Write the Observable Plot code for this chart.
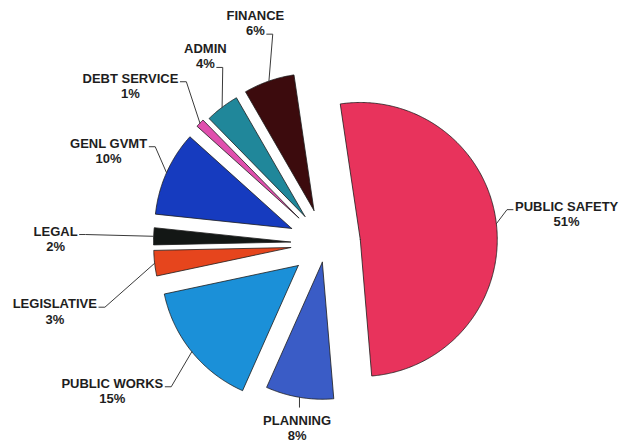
<!DOCTYPE html>
<html>
<head>
<meta charset="utf-8">
<script src="https://cdn.jsdelivr.net/npm/d3@7"></script>
<script src="https://cdn.jsdelivr.net/npm/@observablehq/plot@0.6"></script>
<style>
  html, body { margin: 0; padding: 0; background: #ffffff; }
  #chart svg { display: block; }
</style>
</head>
<body>
<div id="chart"></div>
<script>
// ---- data ----
const names  = ["PUBLIC SAFETY", "PLANNING", "PUBLIC WORKS", "LEGISLATIVE", "LEGAL", "GENL GVMT", "DEBT SERVICE", "ADMIN", "FINANCE"];
const shares = [51, 8, 15, 3, 2, 10, 1, 4, 6];
const colors = ["#e8335c", "#3a5cc6", "#1b90d8", "#e6451d", "#131715", "#163bbf", "#e04fae", "#20879a", "#3c0b0d"];

// ---- layout (not data) ----
const explode     = [35, 19, 35, 35, 35, 37, 37, 34, 35];
const labelAngle  = [82.9, 188.8, 235.4, 256.0, 271.1, 293.2, 309.0, 327.4, 342.4];
const labelDist   = [243, 186, 259, 279, 270, 236, 251, 223, 232];
const leaderSide  = ["left", "top", "right", "right", "right", "right", "right", "right", "right"];
const leaderLine  = [0, 0, 0, 0, 0, 0, 0, 1, 1];

const W = 625, H = 444;
const cx = 325, cy = 243, R = 137, startDeg = -8.4;
const fontSize = 13, lineHeight = 1.2;
const font = "Liberation Sans, Arial, Helvetica, sans-serif";

const rad = d => d * Math.PI / 180;
const pt = (deg, r, ox, oy) => ({x: ox + r * Math.sin(rad(deg)), y: oy - r * Math.cos(rad(deg))});

const arcs = d3.pie().sort(null).startAngle(rad(startDeg)).endAngle(rad(startDeg + 360))(shares);

const slicePts = [];
const leaderPts = [];
const labelData = [];

const ctx = document.createElement("canvas").getContext("2d");
ctx.font = `bold ${fontSize}px "Liberation Sans", Arial, sans-serif`;

arcs.forEach((a, i) => {
  const a0 = a.startAngle * 180 / Math.PI, a1 = a.endAngle * 180 / Math.PI;
  const mid = (a0 + a1) / 2;
  const o = pt(mid, explode[i], cx, cy);
  slicePts.push({name: names[i], x: o.x, y: o.y});
  const n = Math.max(4, Math.ceil((a1 - a0) / 0.5));
  for (let k = 0; k <= n; k++) {
    const p = pt(a0 + (a1 - a0) * k / n, R, o.x, o.y);
    slicePts.push({name: names[i], x: p.x, y: p.y});
  }
  slicePts.push({name: names[i], x: o.x, y: o.y});

  // label
  const L = pt(labelAngle[i], labelDist[i], cx, cy);
  const lines = [names[i], shares[i] + "%"];
  labelData.push({name: names[i], x: L.x, y: L.y, text: lines.join("\n")});

  // leader
  const lh = fontSize * lineHeight;
  const arcP = pt(mid, R, o.x, o.y);
  if (leaderSide[i] === "top") {
    const topY = L.y - lh - fontSize * 0.35;
    leaderPts.push({name: names[i], x: arcP.x, y: topY});
    leaderPts.push({name: names[i], x: arcP.x, y: arcP.y});
  } else {
    const k = leaderLine[i];
    const wText = ctx.measureText(lines[k]).width;
    const ly = L.y + (k - 0.5) * lh + 4;
    const s = leaderSide[i] === "right" ? 1 : -1;
    const sx = L.x + s * (wText / 2 + 2);
    leaderPts.push({name: names[i], x: sx, y: ly});
    leaderPts.push({name: names[i], x: sx + s * 6, y: ly});
    leaderPts.push({name: names[i], x: arcP.x, y: arcP.y});
  }
});

const chart = Plot.plot({
  width: W,
  height: H,
  margin: 0,
  style: {background: "#ffffff"},
  x: {type: "linear", domain: [0, W], range: [0, W], axis: null},
  y: {type: "linear", domain: [0, H], range: [0, H], axis: null},
  color: {type: "ordinal", domain: names, range: colors, legend: false},
  marks: [
    Plot.line(slicePts, {x: "x", y: "y", z: "name", fill: "name", stroke: "#1c1c1c", strokeWidth: 0.8, strokeLinejoin: "round", curve: "linear"}),
    Plot.line(leaderPts, {x: "x", y: "y", z: "name", stroke: "#3a3a3a", strokeWidth: 1, curve: "linear"}),
    Plot.text(labelData, {x: "x", y: "y", text: "text", fontSize: fontSize, fontWeight: "bold", fontFamily: font, fill: "#1e1e1e", lineHeight: lineHeight, textAnchor: "middle", lineAnchor: "middle"})
  ]
});
document.getElementById("chart").appendChild(chart);
</script>
</body>
</html>
